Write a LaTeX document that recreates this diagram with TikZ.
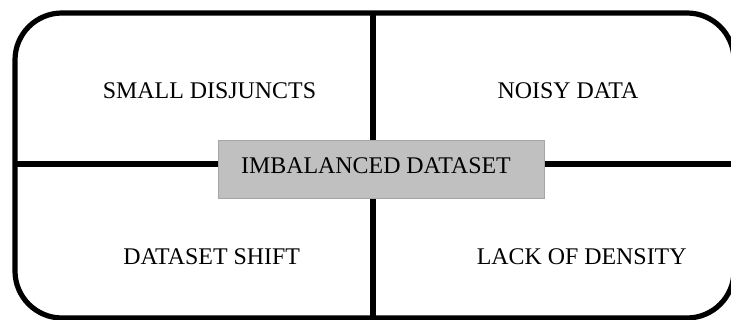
\documentclass[tikz,border=0pt]{standalone}
\usepackage{fontspec}
\setmainfont{Liberation Serif}
\definecolor{boxfill}{HTML}{C0C0C0}
\definecolor{boxline}{HTML}{A6A6A6}
\begin{document}
\begin{tikzpicture}[x=1pt,y=-1pt,
  frame/.style={line width=5.2pt},
  label/.style={font=\fontsize{23.9}{28}\selectfont, anchor=base, inner sep=0pt},
  centerbox/.style={fill=boxfill, draw=boxline, line width=1pt}]
  \useasboundingbox (0,0) rectangle (731,320);
  \clip (0,0) rectangle (731,320);
  % outer frame with rounded corners
  \draw[frame, rounded corners=47pt] (15,13) rectangle (734,318);
  % quadrant dividers
  \coordinate (top) at (373,13);
  \coordinate (bottom) at (373,318);
  \coordinate (left) at (15,164);
  \coordinate (right) at (734,164);
  \draw[frame] (top) -- (bottom);
  \draw[frame] (left) -- (right);
  % central box
  \draw[centerbox] (218.5,140.5) rectangle (544.5,198.5);
  \node[label] (center) at (376,173.3) {IMBALANCED DATASET};
  % quadrant labels
  \node[label] (tl) at (209.5,98.3) {SMALL DISJUNCTS};
  \node[label] (tr) at (568,98.3) {NOISY DATA};
  \node[label] (bl) at (211.7,264.3) {DATASET SHIFT};
  \node[label] (br) at (581.7,264.3) {LACK OF DENSITY};
\end{tikzpicture}
\end{document}
